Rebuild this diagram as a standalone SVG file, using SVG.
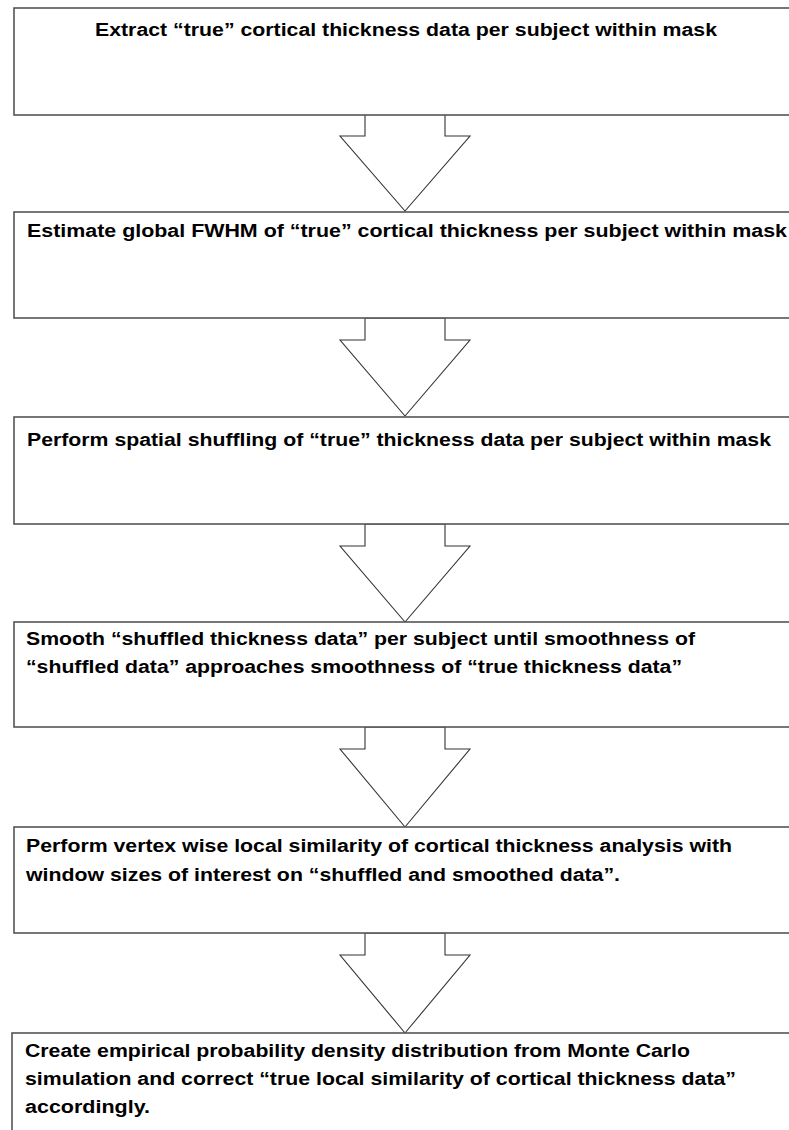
<svg xmlns="http://www.w3.org/2000/svg" width="789" height="1130" viewBox="0 0 789 1130">
<style>
.box{fill:#fff;stroke:#555;stroke-width:1.6}
.arr{fill:#fff;stroke:#333;stroke-width:1.1;stroke-linejoin:miter}
text{font-family:"Liberation Sans",Arial,sans-serif;font-weight:bold;font-size:18px;fill:#000}
</style>
<rect width="789" height="1130" fill="#fff"/>
<g id="connectors">
<polygon class="arr" points="365,114 365,136 340,136 405,211 470,136 445,136 445,114"/>
<polygon class="arr" points="365,318 365,340 340,340 405,416 470,340 445,340 445,318"/>
<polygon class="arr" points="365,524 365,546 340,546 405,622 470,546 445,546 445,524"/>
<polygon class="arr" points="365,727 365,749 340,749 405,827 470,749 445,749 445,727"/>
<polygon class="arr" points="365,933 365,955 340,955 405,1033 470,955 445,955 445,933"/>
</g>
<g id="n1"><rect class="box" x="14" y="8" width="800" height="107"/>
<text x="95" y="36" textLength="622" lengthAdjust="spacingAndGlyphs">Extract “true” cortical thickness data per subject within mask</text></g>
<g id="n2"><rect class="box" x="14" y="212" width="800" height="106"/>
<text x="27" y="237" textLength="760" lengthAdjust="spacingAndGlyphs">Estimate global FWHM of “true” cortical thickness per subject within mask</text></g>
<g id="n3"><rect class="box" x="14" y="417" width="800" height="107"/>
<text x="27" y="446" textLength="744" lengthAdjust="spacingAndGlyphs">Perform spatial shuffling of “true” thickness data per subject within mask</text></g>
<g id="n4"><rect class="box" x="14" y="622" width="800" height="105"/>
<text x="26" y="645" textLength="669" lengthAdjust="spacingAndGlyphs">Smooth “shuffled thickness data” per subject until smoothness of</text>
<text x="26" y="673" textLength="656" lengthAdjust="spacingAndGlyphs">“shuffled data” approaches smoothness of “true thickness data”</text></g>
<g id="n5"><rect class="box" x="14" y="827" width="800" height="106"/>
<text x="26" y="852" textLength="706" lengthAdjust="spacingAndGlyphs">Perform vertex wise local similarity of cortical thickness analysis with</text>
<text x="26" y="881" textLength="594" lengthAdjust="spacingAndGlyphs">window sizes of interest on “shuffled and smoothed data”.</text></g>
<g id="n6"><rect class="box" x="12" y="1033" width="800" height="120"/>
<text x="25" y="1057" textLength="665" lengthAdjust="spacingAndGlyphs">Create empirical probability density distribution from Monte Carlo</text>
<text x="25" y="1085" textLength="711" lengthAdjust="spacingAndGlyphs">simulation and correct “true local similarity of cortical thickness data”</text>
<text x="25" y="1113" textLength="125" lengthAdjust="spacingAndGlyphs">accordingly.</text></g>
</svg>
